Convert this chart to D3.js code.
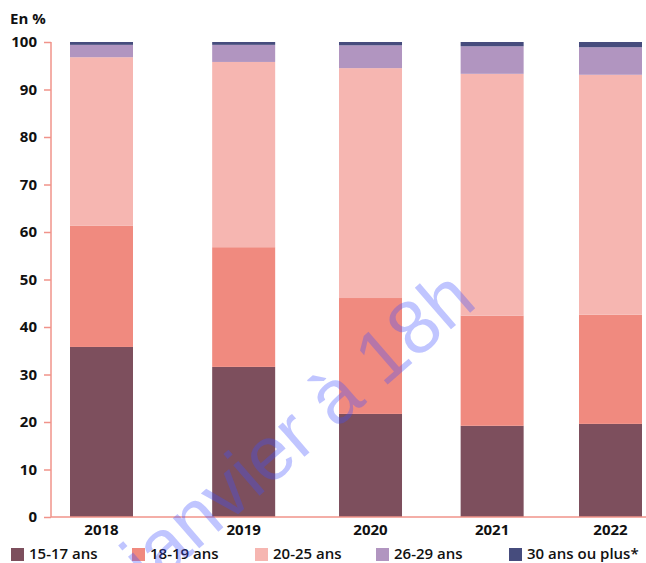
<!DOCTYPE html>
<html><head><meta charset="utf-8">
<script src="https://cdn.jsdelivr.net/npm/d3@7"></script>
<style>
html,body{margin:0;padding:0;background:#fff;}
svg{display:block;}
</style></head>
<body>
<svg id="c" width="646" height="563"></svg>
<script>
const years = ["2018","2019","2020","2021","2022"];
const seriesNames = ["15-17 ans","18-19 ans","20-25 ans","26-29 ans","30 ans ou plus*"];
const s1517 = [35.8, 31.6, 21.7, 19.2, 19.6];
const s1819 = [25.5, 25.2, 24.4, 23.2, 23.0];
const s2025 = [35.5, 39.0, 48.4, 50.9, 50.5];
const s2629 = [2.6, 3.6, 4.8, 5.8, 5.8];
const s30 = [0.6, 0.6, 0.7, 0.9, 1.1];
const yTicks = [0,10,20,30,40,50,60,70,80,90,100];
const colors = ["#7d4f5d","#f08a7f","#f6b6b1","#b195c0","#464c7d"];

const allSeries = [s1517, s1819, s2025, s2629, s30];
const table = years.map((y,i)=>{
  const o = {year:y, idx:i};
  seriesNames.forEach((n,k)=>o[n]=allSeries[k][i]);
  return o;
});

const svg = d3.select("#c");
const font = "'Open Sans', sans-serif";
const axisColor = "#f0938a";

const y = d3.scaleLinear().domain([0,100]).range([517,42]);
const xc = d3.scalePow().exponent(0.92).domain([0,years.length-1]).range([101.5,610.5]);
const barW = 63;

const stack = d3.stack().keys(seriesNames)(table);

svg.append("g").selectAll("g").data(stack).join("g")
  .attr("fill",(d,i)=>colors[i])
  .selectAll("rect").data(d=>d).join("rect")
  .attr("x",d=>xc(d.data.idx)-barW/2)
  .attr("width",barW)
  .attr("y",d=>y(d[1]))
  .attr("height",d=>y(d[0])-y(d[1]));

// y axis
const yAxis = svg.append("g").attr("transform","translate(51,0)")
  .call(d3.axisLeft(y).tickValues(yTicks).tickSize(7).tickPadding(7));
yAxis.select(".domain").attr("stroke",axisColor).attr("stroke-width",1.5).attr("d","M0,42V517");
yAxis.selectAll(".tick line").attr("stroke",axisColor).attr("stroke-width",1.5);
yAxis.selectAll(".tick text").attr("fill","#111").attr("font-family",font)
  .attr("font-size",15).attr("font-weight",700);

// x axis line
svg.append("line").attr("x1",51).attr("x2",646).attr("y1",y(0)).attr("y2",y(0))
  .attr("stroke",axisColor).attr("stroke-width",1.5);

// x labels
svg.append("g").selectAll("text").data(years).join("text")
  .attr("x",(d,i)=>xc(i)).attr("y",535).attr("text-anchor","middle")
  .attr("font-family",font).attr("font-size",15).attr("font-weight",700).attr("fill","#111")
  .text(d=>d);

// unit label
svg.append("text").attr("x",10).attr("y",24).attr("font-family",font)
  .attr("font-size",15).attr("font-weight",700).attr("fill","#111").text("En %");

// legend
const legendX = [11,132,255,376,509];
const lg = svg.append("g");
seriesNames.forEach((n,i)=>{
  lg.append("rect").attr("x",legendX[i]).attr("y",548).attr("width",13).attr("height",13).attr("fill",colors[i]);
  lg.append("text").attr("x",legendX[i]+18).attr("y",559).attr("font-family",font)
    .attr("font-size",15).attr("font-weight",600).attr("fill","#111").text(n);
});

// watermark
svg.append("text")
  .attr("transform","translate(479,305) rotate(-41)")
  .attr("text-anchor","end")
  .attr("font-family","'Liberation Sans', sans-serif")
  .attr("font-size",76)
  .attr("fill","#4050ff").attr("fill-opacity",0.33)
  .text("Embargo jusqu'au 12 janvier à 18h");
</script>
</body></html>
